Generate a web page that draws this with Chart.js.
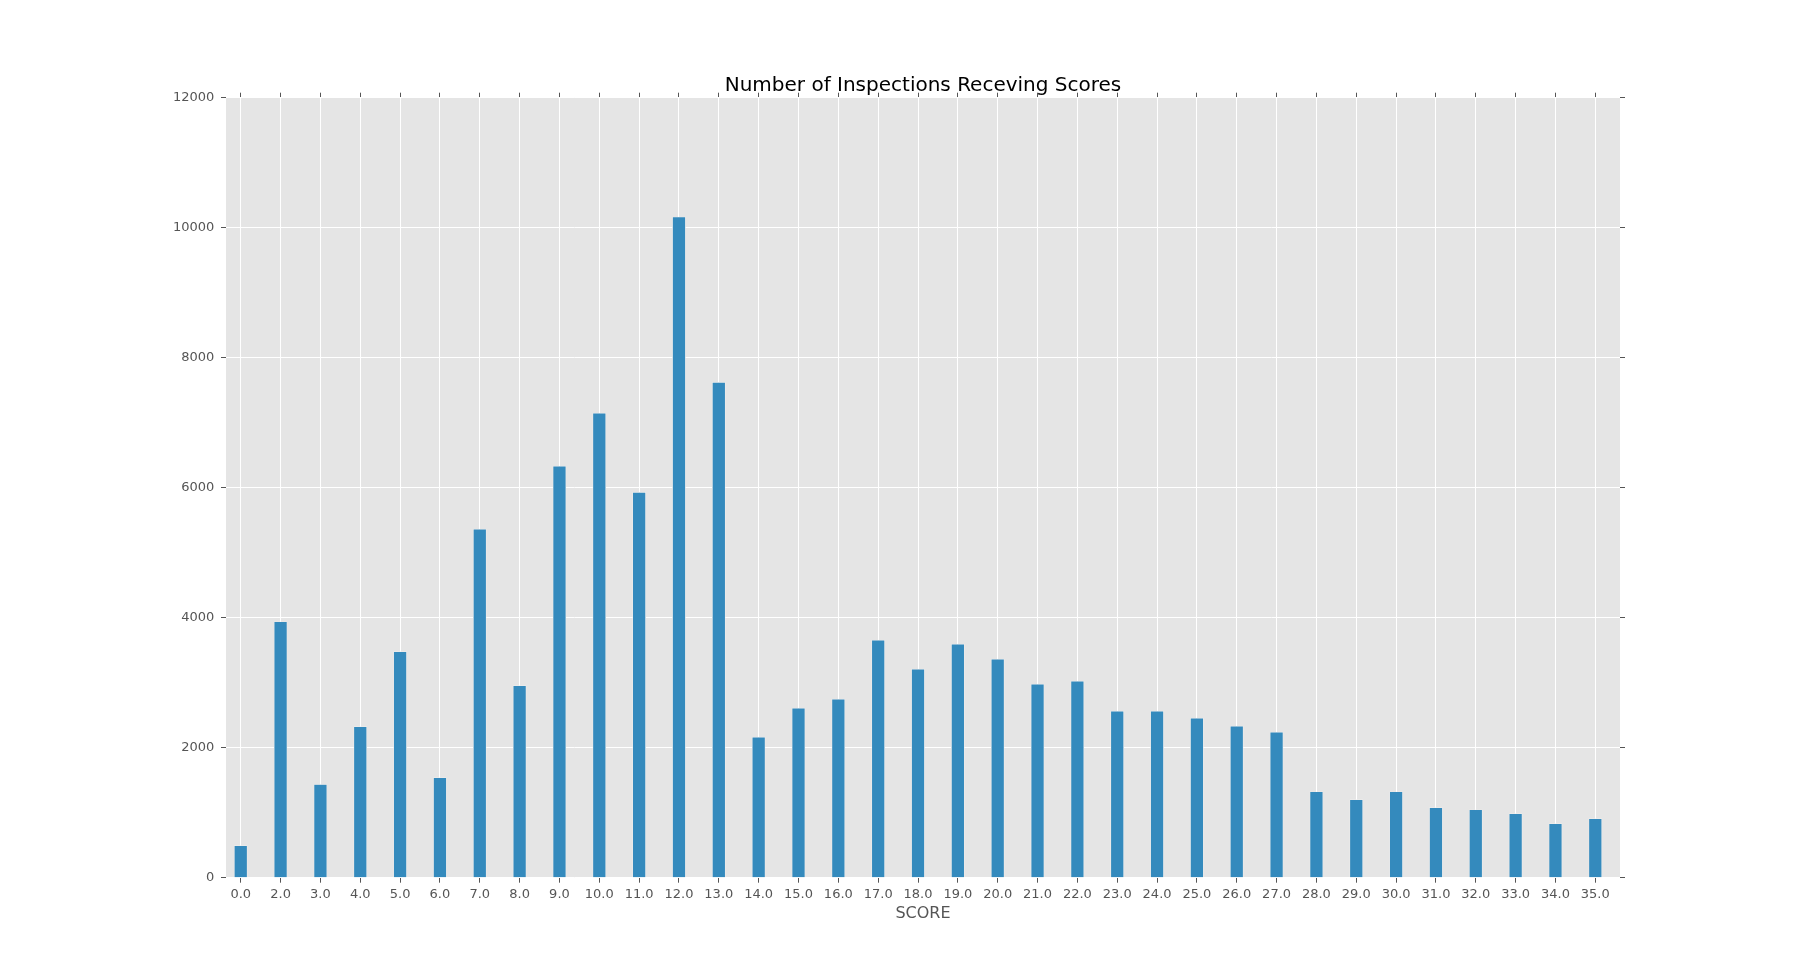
<!DOCTYPE html>
<html>
<head>
<meta charset="utf-8">
<script src="https://cdn.jsdelivr.net/npm/chart.js@4.4.1/dist/chart.umd.min.js"></script>
<style>
  html, body { margin: 0; padding: 0; background: #ffffff; }
  #wrap { width: 1800px; height: 976px; position: relative; }
</style>
</head>
<body>
<div id="wrap"><canvas id="chart"></canvas></div>
<script>
// scores on the x axis (note: no 1.0 in the data)
const scoreLabels = ['0.0','2.0','3.0','4.0','5.0','6.0','7.0','8.0','9.0','10.0','11.0','12.0',
  '13.0','14.0','15.0','16.0','17.0','18.0','19.0','20.0','21.0','22.0','23.0','24.0','25.0',
  '26.0','27.0','28.0','29.0','30.0','31.0','32.0','33.0','34.0','35.0'];
// number of inspections receiving each score
const inspectionCounts = [495, 3938, 1434, 2324, 3479, 1541, 5364, 2954, 6330, 7149, 5929, 10165,
  7620, 2164, 2610, 2749, 3656, 3210, 3595, 3364, 2979, 3026, 2564, 2564, 2456,
  2333, 2241, 1323, 1200, 1323, 1077, 1046, 985, 831, 908];
const yTicks = [0, 2000, 4000, 6000, 8000, 10000, 12000];

const FONT = 'DejaVu Sans';
const TICK_GREY = '#555555';

const points = inspectionCounts.map((v, i) => ({x: i, y: v}));

// grey panel behind the bars
const panelBg = {
  id: 'panelBg',
  beforeDraw(chart){
    const {ctx, chartArea:a} = chart;
    ctx.save();
    ctx.fillStyle = '#E5E5E5';
    ctx.fillRect(a.left, a.top, a.right - a.left, a.bottom - a.top);
    ctx.restore();
  }
};

const xMin = -0.37, xMax = 34.62;
const xTickValues = scoreLabels.map((s, i) => ({value: i}));

new Chart(document.getElementById('chart'), {
  type: 'bar',
  data: {
    datasets: [{
      label: 'SCORE',
      data: points,
      backgroundColor: '#348ABD',
      borderColor: '#EEEEEE',
      borderWidth: 0.7,
      barThickness: 13
    }]
  },
  options: {
    responsive: true,
    maintainAspectRatio: false,
    animation: false,
    layout: {padding: {left: 0, right: 180, top: 0, bottom: 0}},
    plugins: {
      legend: {display: false},
      tooltip: {enabled: false},
      title: {
        display: true,
        fullSize: false,
        text: 'Number of Inspections Receving Scores',
        color: '#000000',
        font: {family: FONT, size: 20, weight: 'normal'},
        padding: {top: 73.7, bottom: 0}
      }
    },
    scales: {
      x: {
        type: 'linear', position: 'bottom', min: xMin, max: xMax, offset: false,
        afterFit(s){ s.height = 98.3; },
        afterBuildTicks(s){ s.ticks = xTickValues.map(t => ({value: t.value})); },
        border: {display: false},
        grid: {offset: false, color: '#FFFFFF', lineWidth: 1, tickColor: TICK_GREY, tickLength: 5, tickWidth: 1},
        ticks: {
          autoSkip: false, maxRotation: 0,
          color: TICK_GREY, font: {family: FONT, size: 13}, padding: 4,
          callback: v => scoreLabels[v]
        },
        title: {display: true, text: 'SCORE', color: TICK_GREY,
          font: {family: FONT, size: 16}, padding: {top: 0, bottom: 52.9}}
      },
      xTop: {
        type: 'linear', position: 'top', min: xMin, max: xMax, offset: false,
        afterFit(s){ s.height = 0; },
        afterBuildTicks(s){ s.ticks = xTickValues.map(t => ({value: t.value})); },
        border: {display: false},
        grid: {offset: false, drawOnChartArea: false, tickColor: TICK_GREY, tickLength: 5},
        ticks: {display: false}
      },
      y: {
        position: 'left', min: 0, max: 12000,
        afterFit(s){ s.width = 226; },
        afterBuildTicks(s){ s.ticks = yTicks.map(v => ({value: v})); },
        border: {display: false},
        grid: {color: '#FFFFFF', lineWidth: 1, tickColor: TICK_GREY, tickLength: 5},
        ticks: {color: TICK_GREY, font: {family: FONT, size: 13}, padding: 6.7,
          callback: v => String(v)}
      },
      yRight: {
        position: 'right', min: 0, max: 12000,
        afterFit(s){ s.width = 0; },
        afterBuildTicks(s){ s.ticks = yTicks.map(v => ({value: v})); },
        border: {display: false},
        grid: {drawOnChartArea: false, tickColor: TICK_GREY, tickLength: 5},
        ticks: {display: false}
      }
    }
  },
  plugins: [panelBg]
});
</script>
</body>
</html>
